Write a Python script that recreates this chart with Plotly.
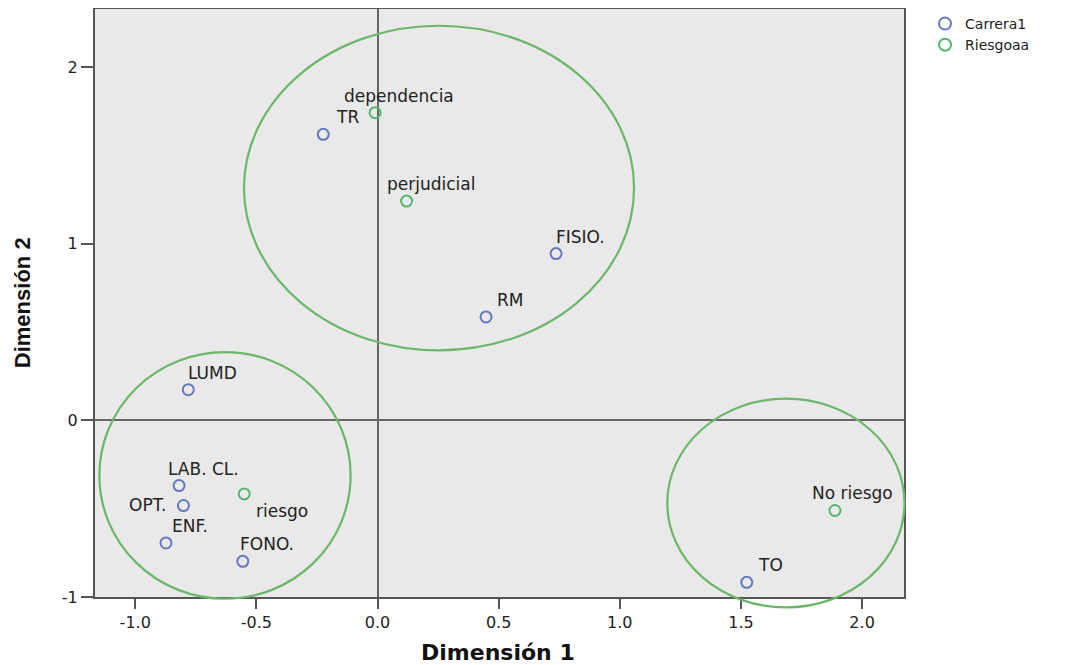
import plotly.graph_objects as go

# ---- data ----
carrera_labels = ["TR", "FISIO.", "RM", "LUMD", "LAB. CL.", "OPT.", "ENF.", "FONO.", "TO"]
carrera_x = [-0.224, 0.737, 0.448, -0.781, -0.819, -0.801, -0.873, -0.556, 1.524]
carrera_y = [1.620, 0.945, 0.586, 0.174, -0.369, -0.482, -0.694, -0.798, -0.917]

riesgo_labels = ["dependencia", "perjudicial", "riesgo", "No riesgo"]
riesgo_x = [-0.010, 0.120, -0.550, 1.888]
riesgo_y = [1.743, 1.242, -0.416, -0.510]

# group ellipses (x0, x1, y0, y1) in data units
ellipse_x0 = [-0.551, -1.148, 1.196]
ellipse_x1 = [1.059, -0.111, 2.175]
ellipse_y0 = [0.397, -1.010, -1.059]
ellipse_y1 = [2.235, 0.387, 0.123]

x_ticks = [-1.0, -0.5, 0.0, 0.5, 1.0, 1.5, 2.0]
x_tick_text = ["-1.0", "-0.5", "0.0", "0.5", "1.0", "1.5", "2.0"]
y_ticks = [-1, 0, 1, 2]
y_tick_text = ["-1", "0", "1", "2"]

# ---- style ----
XR = [-1.166, 2.173]
YR = [-1.0, 2.33]
BLUE = "#6478bf"
GREEN = "#55b56f"
RING = "#6ab768"
FONT = "DejaVu Sans"

# label offsets (px): default up-right, a few exceptions
carrera_shift = {"OPT.": (-36, 1)}
riesgo_shift = {"riesgo": (38, -17), "No riesgo": (18, 17)}

fig = go.Figure()
fig.add_trace(go.Scatter(
    x=carrera_x, y=carrera_y, mode="markers", name="Carrera1",
    marker=dict(symbol="circle-open", size=11, color=BLUE, line=dict(width=2)),
    cliponaxis=False))
fig.add_trace(go.Scatter(
    x=riesgo_x, y=riesgo_y, mode="markers", name="Riesgoaa",
    marker=dict(symbol="circle-open", size=11, color=GREEN, line=dict(width=2)),
    cliponaxis=False))

annotations = []
for lbls, xs, ys, shifts in [(carrera_labels, carrera_x, carrera_y, carrera_shift),
                             (riesgo_labels, riesgo_x, riesgo_y, riesgo_shift)]:
    for lab, xv, yv in zip(lbls, xs, ys):
        dx, dy = shifts.get(lab, (24, 17))
        annotations.append(dict(x=xv, y=yv, xref="x", yref="y", text=lab,
                                showarrow=False, xshift=dx, yshift=dy,
                                font=dict(family=FONT, size=17, color="#222")))


def px(v):
    return (v - XR[0]) / (XR[1] - XR[0])


def py(v):
    return (v - YR[0]) / (YR[1] - YR[0])


shapes = []
for x0, x1, y0, y1 in zip(ellipse_x0, ellipse_x1, ellipse_y0, ellipse_y1):
    shapes.append(dict(type="circle", xref="paper", yref="paper",
                       x0=px(x0), x1=px(x1), y0=py(y0), y1=py(y1),
                       line=dict(color=RING, width=2.2), layer="above"))

annotations.append(dict(text="Dimensión 1", xref="paper", yref="paper",
                        x=0.498, y=-0.095, xanchor="center", yanchor="middle",
                        showarrow=False,
                        font=dict(family=FONT, size=22, color="#111", weight="bold")))
annotations.append(dict(text="Dimensión 2", xref="paper", yref="paper",
                        x=-0.090, y=0.5, xanchor="center", yanchor="middle",
                        showarrow=False, textangle=-90,
                        font=dict(family="Liberation Sans", size=22, color="#111", weight="bold")))

fig.update_layout(
    width=1062, height=657,
    margin=dict(l=87, r=166, t=1, b=68, autoexpand=False),
    paper_bgcolor="white", plot_bgcolor="#e9e9e9",
    font=dict(family=FONT, size=15, color="#222"),
    showlegend=True,
    legend=dict(x=1.026, y=1.0, xref="paper", yref="container",
                xanchor="left", yanchor="top",
                font=dict(family=FONT, size=14, color="#222"),
                tracegroupgap=0, itemsizing="constant",
                bgcolor="rgba(0,0,0,0)"),
    shapes=shapes, annotations=annotations,
)
fig.update_xaxes(range=XR, tickvals=x_ticks, ticktext=x_tick_text, showgrid=False,
                 zeroline=True, zerolinecolor="#666", zerolinewidth=2,
                 showline=True, mirror=True, linecolor="#555", linewidth=2,
                 ticks="outside", ticklen=10, tickwidth=2, tickcolor="#555",
                 tickfont=dict(family=FONT, size=16, color="#222"))
fig.update_yaxes(range=YR, tickvals=y_ticks, ticktext=y_tick_text, showgrid=False,
                 zeroline=True, zerolinecolor="#666", zerolinewidth=2,
                 showline=True, mirror=True, linecolor="#555", linewidth=2,
                 ticks="outside", ticklen=12, tickwidth=2, tickcolor="#555",
                 tickfont=dict(family=FONT, size=16, color="#222"))

fig.write_html("out.html")
